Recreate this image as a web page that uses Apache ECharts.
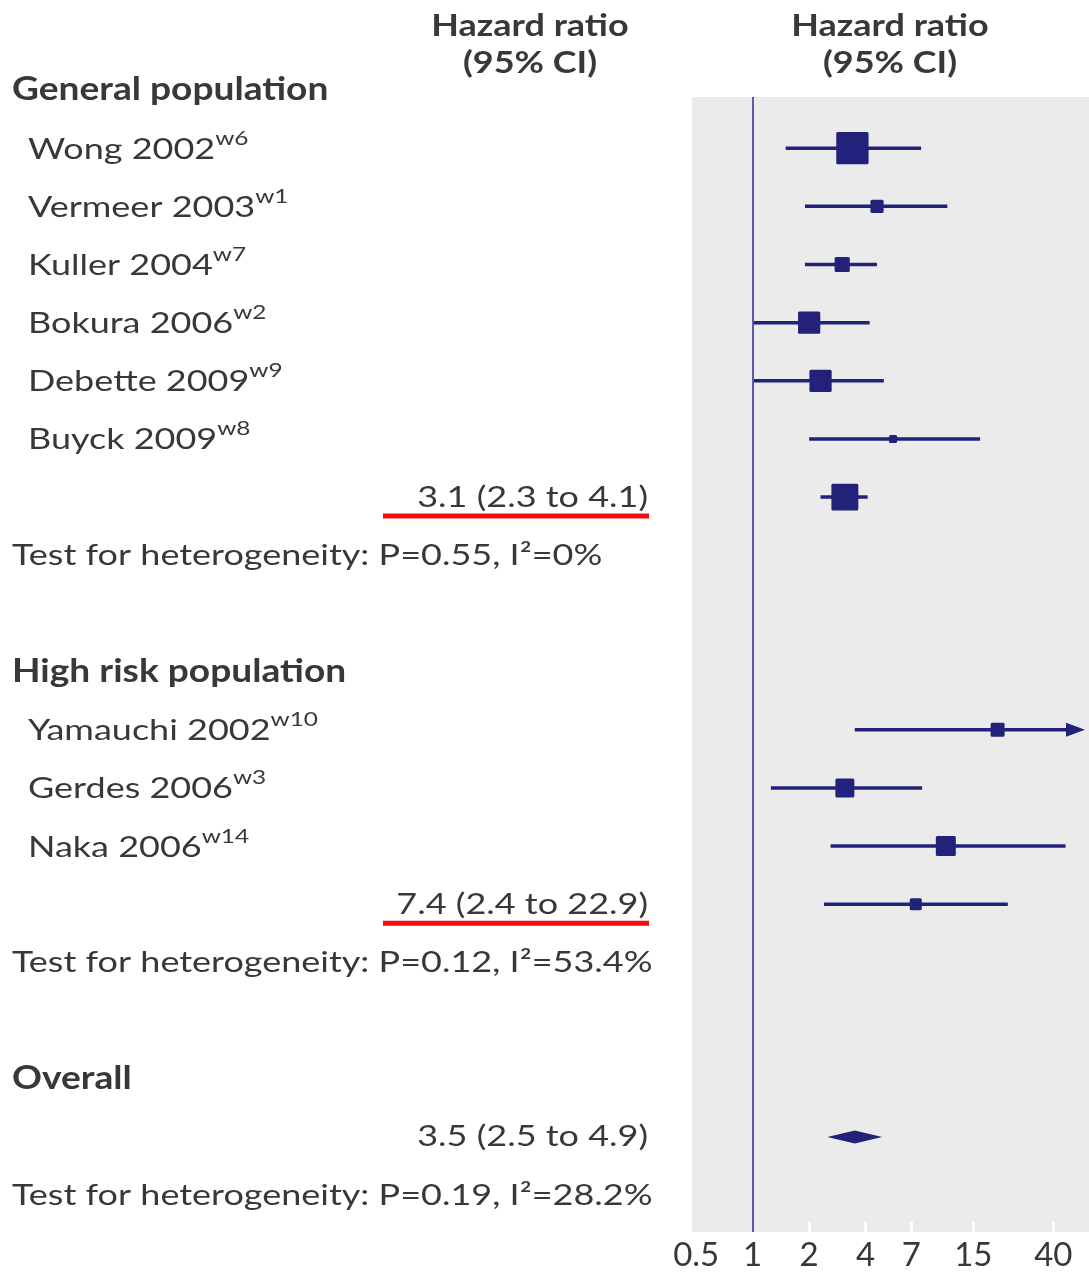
<!DOCTYPE html>
<html>
<head>
<meta charset="utf-8">
<script src="https://cdn.jsdelivr.net/npm/echarts@6/dist/echarts.min.js"></script>
<style>
html,body{margin:0;padding:0;background:#fff;}
#chart{width:1089px;height:1273px;}
</style>
</head>
<body>
<div id="chart"></div>
<script>
// ---------------- data ----------------
const generalStudies = ['Wong 2002', 'Vermeer 2003', 'Kuller 2004', 'Bokura 2006', 'Debette 2009', 'Buyck 2009'];
const generalRefs = ['w6', 'w1', 'w7', 'w2', 'w9', 'w8'];
const generalHR = [3.4, 4.6, 3.0, 2.0, 2.3, 5.6];
const generalLo = [1.5, 1.9, 1.9, 1.0, 1.0, 2.0];
const generalHi = [7.9, 10.9, 4.6, 4.2, 5.0, 16.3];
const generalWeight = [41.8, 6.9, 9.2, 19.8, 19.8, 2.6];
const generalPooled = [3.1, 2.3, 4.1];
const generalPooledWeight = 29;
const generalHet = 'Test for heterogeneity: P=0.55, I²=0%';

const highStudies = ['Yamauchi 2002', 'Gerdes 2006', 'Naka 2006'];
const highRefs = ['w10', 'w3', 'w14'];
const highHR = [20.2, 3.1, 10.7];
const highLo = [3.5, 1.25, 2.6];
const highHi = [90, 8.0, 46.5];   // Yamauchi upper limit lies beyond the axis (arrow)
const highWeight = [7.8, 14.4, 16.0];
const highPooled = [7.4, 2.4, 22.9];
const highPooledWeight = 5.8;
const highHet = 'Test for heterogeneity: P=0.12, I²=53.4%';

const overallPooled = [3.5, 2.5, 4.9];
const overallHet = 'Test for heterogeneity: P=0.19, I²=28.2%';

const groupNames = ['General population', 'High risk population', 'Overall'];
const axisTicks = [0.5, 1, 2, 4, 7, 15, 40];
const headerText = 'Hazard ratio\n(95% CI)';

// ---------------- layout rows ----------------
const rows = [];
function addGroup(name, studies, refs, hr, lo, hi, w, pooled, pw, het, underline, diamond) {
  rows.push({kind: 'header', text: name});
  studies.forEach((s, i) => rows.push({kind: 'study', text: s, sup: refs[i], hr: hr[i], lo: lo[i], hi: hi[i], w: w[i]}));
  rows.push({kind: diamond ? 'diamond' : 'pooled', hr: pooled[0], lo: pooled[1], hi: pooled[2], w: pw,
    text: pooled[0].toFixed(1) + ' (' + pooled[1].toFixed(1) + ' to ' + pooled[2].toFixed(1) + ')', underline: underline});
  rows.push({kind: 'het', text: het});
}
addGroup(groupNames[0], generalStudies, generalRefs, generalHR, generalLo, generalHi, generalWeight, generalPooled, generalPooledWeight, generalHet, true, false);
rows.push({kind: 'blank'});
addGroup(groupNames[1], highStudies, highRefs, highHR, highLo, highHi, highWeight, highPooled, highPooledWeight, highHet, true, false);
rows.push({kind: 'blank'});
addGroup(groupNames[2], [], [], [], [], [], [], overallPooled, 0, overallHet, false, true);

const plotData = [];
rows.forEach((r, i) => {
  if (r.kind === 'study') plotData.push([i, r.hr, r.lo, r.hi, r.w, 0]);
  if (r.kind === 'pooled') plotData.push([i, r.hr, r.lo, r.hi, r.w, 1]);
  if (r.kind === 'diamond') plotData.push([i, r.hr, r.lo, r.hi, r.w, 2]);
});
const textData = rows.map((r, i) => [0.5, i]);

const INK = '#22227a';
const TXT = '#383838';
const BODY_FONT = 'Lato';
const BODY_SIZE = 29.5;
const BODY_SX = 1.22;
const HEAD_SIZE = 32;
const HEAD_SX = 1.16;
const TOP_SIZE = 31;

const chart = echarts.init(document.getElementById('chart'), null, {renderer: 'canvas'});

function renderPlot(params, api) {
  const row = api.value(0), hr = api.value(1), lo = api.value(2), hi = api.value(3), w = api.value(4), kind = api.value(5);
  const cs = params.coordSys;
  const xMax = cs.x + cs.width - 4;
  const p = api.coord([hr, row]);
  const l = api.coord([lo, row]);
  const h = api.coord([hi, row]);
  const y = p[1];
  const children = [];
  if (kind === 2) {
    const hh = 6.5;
    children.push({type: 'polygon', shape: {points: [[l[0], y], [p[0], y - hh], [h[0], y], [p[0], y + hh]]},
      style: {fill: INK}});
  } else {
    const arrow = h[0] > xMax;
    const xe = arrow ? xMax : h[0];
    children.push({type: 'line', shape: {x1: l[0], y1: y, x2: arrow ? xe - 10 : xe, y2: y},
      style: {stroke: INK, lineWidth: 3.5}});
    if (arrow) {
      children.push({type: 'polygon', shape: {points: [[xe, y], [xe - 19, y - 7], [xe - 19, y + 7]]}, style: {fill: INK}});
    }
    const s = Math.sqrt(w) * 5;
    children.push({type: 'rect', shape: {x: p[0] - s / 2, y: y - s / 2, width: s, height: s, r: 1.5}, style: {fill: INK}});
  }
  return {type: 'group', children: children};
}

function renderText(params, api) {
  const idx = params.dataIndex;
  const r = rows[idx];
  const cs = params.coordSys;
  const y = api.coord([0.5, idx])[1];
  const x0 = cs.x;
  if (r.kind === 'blank') return null;
  if (r.kind === 'header') {
    return {type: 'text', x: x0 + 12, y: y, scaleX: HEAD_SX,
      style: {text: r.text, fill: TXT, font: 'bold ' + HEAD_SIZE + 'px Lato', align: 'left', verticalAlign: 'middle'}};
  }
  if (r.kind === 'study') {
    return {type: 'text', x: x0 + 28, y: y - 2, scaleX: BODY_SX,
      style: {text: '{n|' + r.text + '}{s|' + r.sup + '}', align: 'left', verticalAlign: 'middle',
        rich: {
          n: {fontFamily: BODY_FONT, fontSize: BODY_SIZE, fill: TXT, color: TXT, lineHeight: 36, verticalAlign: 'bottom'},
          s: {fontFamily: BODY_FONT, fontSize: 20, fill: TXT, color: TXT, lineHeight: 36, verticalAlign: 'top'}
        }}};
  }
  if (r.kind === 'het') {
    return {type: 'text', x: x0 + 12, y: y, scaleX: BODY_SX,
      style: {text: r.text, fill: TXT, font: BODY_SIZE + 'px ' + BODY_FONT, align: 'left', verticalAlign: 'middle'}};
  }
  // pooled / diamond text (right aligned)
  const xr = x0 + 648;
  const kids = [{type: 'text', x: xr, y: y, scaleX: BODY_SX,
    style: {text: r.text, fill: TXT, font: BODY_SIZE + 'px ' + BODY_FONT, align: 'right', verticalAlign: 'middle'}}];
  if (r.underline) {
    kids.push({type: 'line', shape: {x1: xr - 265, y1: y + 19, x2: xr + 1, y2: y + 19},
      style: {stroke: '#f20d0d', lineWidth: 5}});
  }
  return {type: 'group', children: kids};
}

const ROW0 = 90, ROWH = 58.16;
const plotTop = 97, plotBottomPx = 1232, H = 1273;

const option = {
  animation: false,
  backgroundColor: '#ffffff',
  grid: [
    {left: 692, right: 0, top: plotTop, bottom: H - plotBottomPx, show: true, backgroundColor: '#ebebeb', borderWidth: 0},
    {left: 0, width: 692, top: 0, bottom: H - plotBottomPx}
  ],
  xAxis: [
    {gridIndex: 0, type: 'log', logBase: 10, min: 0.475, max: 62,
      axisLine: {show: false}, splitLine: {show: false},
      axisTick: {show: true, inside: true, length: 10, customValues: axisTicks.filter(v => v > 1), lineStyle: {color: '#ffffff', width: 3}},
      axisLabel: {show: true, customValues: axisTicks, formatter: v => String(v), fontFamily: 'Lato', fontSize: 33, color: TXT, margin: 7}},
    {gridIndex: 1, type: 'value', min: 0, max: 1, show: false}
  ],
  yAxis: [
    {gridIndex: 0, type: 'value', inverse: true, min: (plotTop - ROW0) / ROWH, max: (plotBottomPx - ROW0) / ROWH, show: false},
    {gridIndex: 1, type: 'value', inverse: true, min: (0 - ROW0) / ROWH, max: (plotBottomPx - ROW0) / ROWH, show: false}
  ],
  graphic: [
    {type: 'text', x: 530, y: 44, scaleX: HEAD_SX, style: {text: headerText, fill: TXT, font: 'bold ' + TOP_SIZE + 'px Lato', align: 'center', verticalAlign: 'middle', lineHeight: 37}},
    {type: 'text', x: 890, y: 44, scaleX: HEAD_SX, style: {text: headerText, fill: TXT, font: 'bold ' + TOP_SIZE + 'px Lato', align: 'center', verticalAlign: 'middle', lineHeight: 37}}
  ],
  series: [
    {type: 'custom', xAxisIndex: 0, yAxisIndex: 0, data: plotData, renderItem: renderPlot, encode: {x: [1, 2, 3], y: 0}, z: 3,
      markLine: {silent: true, symbol: 'none', label: {show: false}, animation: false,
        lineStyle: {color: '#5a5aa6', width: 2, type: 'solid'}, data: [{xAxis: 1}]}},
    {type: 'custom', xAxisIndex: 1, yAxisIndex: 1, data: textData, renderItem: renderText, encode: {x: 0, y: 1}, z: 4}
  ]
};
chart.setOption(option);
</script>
</body>
</html>
